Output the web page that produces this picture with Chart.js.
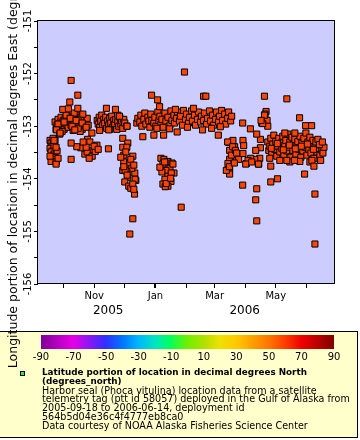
<!DOCTYPE html>
<html>
<head>
<meta charset="utf-8">
<script src="https://cdn.jsdelivr.net/npm/chart.js@4.4.1/dist/chart.umd.min.js"></script>
<style>
  html, body { margin: 0; padding: 0; background: #fff; }
  canvas { display: block; }
</style>
</head>
<body>
<canvas id="sealChart" width="360" height="440"></canvas>
<script>
// day 0 = 2005-09-18, start of the deployment
const START = Date.UTC(2005, 8, 18);

// days since START, one entry per location fix
const days = [
  0, 1, 2, 0, 3, 1, 4, 2, 5, 3, 1, 6, 5, 4, 7, 0, 6, 3, 6, 8,
  5, 7, 8, 9, 10, 11, 12, 13, 14, 15, 16, 17, 18, 19, 20, 21, 22, 23, 24, 25, 26, 27, 28, 29, 30, 31, 32, 33, 34, 35, 36, 37, 38, 12, 16, 24, 30, 6, 20, 28, 8, 14, 22, 26, 32, 36,
  21, 27.7, 19.7, 12.7, 27.7, 32.7, 6.3, 9.7, 24.7, 4, 41.7, 10, 18.3,
  37.3, 39.7, 46.7, 41.3, 34.7, 41.3, 30.7, 26.7, 21, 21, 37, 42, 45, 44, 36, 48, 58.2, 33, 39,
  47, 48, 49, 49.5, 50.5, 51.5, 52.5, 53.5, 54.5, 55.5, 56.5, 57.5, 58.5, 59.5, 60.5, 61.5, 62.5, 63.5, 64.5, 65.5, 66.5, 67.5, 68.5, 69.5, 70.5, 71.5, 72.5, 73.5, 74.5, 76.5, 49.5, 59.5, 67.5,
  56.2, 65.2, 69.2, 76.8, 86.5, 58.5,
  72.5, 77.5, 72.5, 76.5, 82.5, 73.5, 73.5, 79.5, 84.5, 72.5, 81.5, 77.5, 75.5, 80.5, 83.5, 74.5, 78.5, 80.5, 84.2, 85.5, 76.5, 70.5, 82.5, 79.5, 74.8, 84.8, 82.5, 83.5, 73.5, 76.8,
  87.5, 89.5, 90.5, 91.5, 93.5, 94.5, 95.5, 97.5, 98.5, 99.5, 100.5, 101.5, 103.5, 104.5, 105.5, 107.5, 108.5, 109.5, 110.5, 111.5,
  112.5, 114.5, 115.5, 117.5, 119.5, 120.5, 121.5, 123.5, 124, 126, 127, 129, 130, 132, 133, 135, 136, 138, 139, 141,
  142, 144, 145, 147, 148, 150, 151, 153, 154, 156, 157, 159, 160, 162, 163, 165, 166, 168, 169, 171,
  172, 174, 175, 177, 178, 180, 181, 106.5, 137, 161, 125, 143,
  92.5, 103.5, 113.2, 119.2, 126.7, 152, 167.7, 169.7, 101.2, 107.2, 109.2, 134, 153, 155.3, 130.7,
  110.5, 113.5, 117.5, 121.5, 112.5, 119.5, 115.5, 111.5, 123.5, 117.5, 114.5, 120.5, 112.5, 117.5, 122.5, 109.5, 114.2, 120.8, 114.8, 115.8, 120.2,
  178.3, 179, 179, 179, 179, 184, 185.7, 188, 180.7, 182.3, 175.7, 177.3, 177, 182, 184.7, 178.7, 183.7, 186,
  192.3, 193, 192.3, 209.7, 209.7, 209, 208, 204, 200, 195.7, 197.3, 195, 207.7, 201, 205,
  192, 199.7, 206, 220, 226.7, 220, 192, 206, 205, 206,
  215.3, 214.3, 216.3, 217, 211, 212, 213.7, 210.3, 213.7,
  217, 218, 219, 220, 221, 222, 223, 224, 225, 226, 227, 228, 229, 230, 231, 232, 233, 234, 235, 236,
  237, 238, 239, 240, 241, 242, 243, 244, 245, 246, 247, 248, 249, 250, 251, 252, 253, 254, 255, 256,
  257, 258, 259, 260, 261, 262, 263, 264, 265, 266, 267, 268, 269, 270, 271, 272, 273,
  229, 239, 249, 259, 219, 234, 244, 236, 243.7, 261, 269.7,
  220.5, 226.5, 232.5, 238.5, 244.5, 250.5, 256.5, 262.5, 268.5, 271.5,
  236, 248.7, 254.7, 260.7, 253.7, 263, 264, 264
];

// longitude of each fix, degrees East
const longitudes = [
  -153.27, -153.32, -153.38, -153.42, -153.46, -153.49, -153.53, -153.57, -153.59, -153.63, -153.67, -153.68, -153.27, -153.36, -153.47, -153.57, -153.40, -153.23, -153.72, -153.61,
  -152.92, -152.98, -152.87, -153.04, -152.94, -152.83, -153.00, -152.90, -153.06, -152.85, -152.96, -152.89, -153.02, -152.81, -152.92, -152.98, -152.85, -153.08, -152.90, -153.02, -152.79, -152.94, -152.87, -153.00, -152.90, -152.83, -153.06, -152.96, -152.89, -153.00, -152.92, -152.85, -152.98, -153.10, -152.79, -152.75, -153.10, -153.06, -152.85, -153.04, -152.96, -152.92, -153.00, -152.89, -152.94, -153.02,
  -152.13, -152.41, -152.54, -152.68, -152.66, -152.77, -153.07, -153.15, -153.07, -153.27, -153.13, -153.13, -152.67,
  -153.25, -153.30, -153.36, -153.46, -153.53, -153.56, -153.41, -153.39, -153.32, -153.63, -153.49, -153.57, -153.48, -153.38, -153.40, -153.44, -153.43, -153.30, -153.61,
  -152.89, -152.96, -152.83, -153.02, -152.90, -152.79, -152.98, -152.87, -152.94, -152.83, -153.04, -152.90, -152.98, -152.85, -152.94, -152.81, -153.02, -152.89, -152.96, -152.87, -153.06, -152.92, -153.00, -152.83, -152.96, -152.90, -153.04, -152.87, -152.94, -153.00, -153.08, -153.06, -152.79,
  -152.66, -152.68, -152.81, -153.00, -152.94, -153.07,
  -153.23, -153.32, -153.40, -153.40, -153.57, -153.55, -153.68, -153.70, -153.89, -153.84, -153.80, -153.97, -153.49, -153.63, -153.74, -154.06, -154.14, -154.18, -154.29, -154.03, -153.86, -153.59, -154.76, -155.05, -153.84, -154.01, -154.10, -154.20, -153.77, -153.93,
  -152.85, -152.92, -152.79, -153.00, -152.87, -152.75, -152.96, -152.83, -152.90, -153.02, -152.77, -152.89, -152.94, -152.83, -153.00, -152.73, -152.89, -152.81, -152.96, -152.87,
  -153.02, -152.75, -152.90, -152.83, -152.98, -152.71, -152.89, -152.79, -152.94, -152.85, -152.73, -152.90, -152.81, -152.98, -152.70, -152.87, -152.77, -152.94, -152.83, -152.71,
  -152.90, -152.79, -152.98, -152.87, -152.73, -152.92, -152.81, -152.89, -152.75, -152.96, -152.85, -152.71, -152.90, -152.79, -152.98, -152.87, -152.73, -152.92, -152.81, -152.70,
  -152.89, -152.77, -152.96, -152.85, -152.73, -152.90, -152.81, -153.04, -153.02, -153.04, -152.68, -152.66,
  -153.20, -153.17, -153.17, -153.05, -153.11, -153.07, -153.17, -153.01, -152.41, -152.50, -152.63, -151.97, -152.43, -152.43, -154.54,
  -153.61, -153.63, -153.67, -153.70, -153.72, -153.80, -153.84, -153.87, -153.89, -153.95, -154.01, -154.05, -154.10, -154.14, -153.72, -153.78, -153.68, -153.89, -154.15, -154.09, -153.99,
  -153.31, -153.46, -153.63, -153.80, -153.91, -153.39, -153.61, -153.63, -153.55, -153.27, -153.84, -153.71, -153.30, -153.39, -153.46, -153.77, -153.70, -153.51,
  -153.27, -153.37, -153.52, -153.25, -153.41, -153.61, -153.72, -153.63, -153.61, -153.71, -153.65, -153.72, -153.72, -153.68, -153.46,
  -152.94, -153.05, -153.15, -153.76, -154.00, -154.06, -154.12, -154.19, -154.40, -154.80,
  -152.72, -152.77, -152.89, -153.00, -152.94, -152.95, -152.79, -152.89, -152.43,
  -153.30, -153.46, -153.38, -153.23, -153.51, -153.34, -153.17, -153.44, -153.29, -153.57, -153.38, -153.23, -153.49, -153.32, -153.42, -153.19, -153.55, -153.36, -153.27, -153.47,
  -153.15, -153.40, -153.30, -153.59, -153.21, -153.46, -153.34, -153.25, -153.53, -153.38, -153.29, -153.44, -153.19, -153.59, -153.32, -153.47, -153.23, -153.40, -153.13, -153.55,
  -153.30, -153.44, -153.21, -153.51, -153.36, -153.27, -153.61, -153.40, -153.30, -153.49, -153.25, -153.42, -153.55, -153.36, -153.46, -153.51, -153.40,
  -153.65, -153.68, -153.67, -153.68, -153.61, -153.13, -153.13, -153.65, -153.65, -153.65, -153.65,
  -153.42, -153.33, -153.45, -153.36, -153.43, -153.38, -153.34, -153.44, -153.35, -153.30,
  -152.48, -152.84, -152.99, -152.99, -153.91, -153.76, -154.29, -155.24
];

// x axis: month ticks, only some carry a label
const monthStarts = ['2005-10-01', '2005-11-01', '2005-12-01', '2006-01-01', '2006-02-01', '2006-03-01', '2006-04-01', '2006-05-01', '2006-06-01'];
const monthLabels = ['', 'Nov', '', 'Jan', '', 'Mar', '', 'May', ''];
const yearLabels = ['2005', '2006'];
const yearLabelDates = ['2005-11-15', '2006-03-31'];
const xRange = ['2005-09-06', '2006-06-29'];

// y axis
const lonMin = -156;
const lonMax = -151;

// colour bar (latitude, degrees North)
const colorbarTicks = [-90, -70, -50, -30, -10, 10, 30, 50, 70, 90];

const legendTitle = ['Latitude portion of location in decimal degrees North', '(degrees_north)'];
const legendInfo = [
  'Harbor seal (Phoca vitulina) location data from a satellite',
  'telemetry tag (ptt id 58057) deployed in the Gulf of Alaska from',
  '2005-09-18 to 2006-06-14, deployment id',
  '564b5d04e36c4f4777eb8ca0',
  'Data courtesy of NOAA Alaska Fisheries Science Center'
];

function dayOf(s) {
  const p = s.split('-').map(Number);
  return (Date.UTC(p[0], p[1] - 1, p[2]) - START) / 86400000;
}

const monthDays = monthStarts.map(dayOf);
const points = days.map((d, i) => ({ x: d, y: longitudes[i] }));

const FONT = 'DejaVu Sans';

const paperPlugin = {
  id: 'paper',
  beforeDraw(chart) {
    const { ctx, chartArea: a } = chart;
    ctx.save();
    // legend panel
    ctx.fillStyle = '#ffffcc';
    ctx.fillRect(0, 331, 358, 106);
    ctx.strokeStyle = '#000';
    ctx.lineWidth = 1;
    ctx.strokeRect(-0.5, 331.5, 358, 106);
    // plot background
    ctx.fillStyle = '#ccccff';
    ctx.fillRect(a.left, a.top, a.right - a.left, a.bottom - a.top);
    ctx.restore();
  },
  afterDraw(chart) {
    const { ctx, chartArea: a } = chart;
    const xs = chart.scales.x;
    ctx.save();
    ctx.strokeStyle = '#000';
    ctx.lineWidth = 1;
    ctx.strokeRect(a.left - 0.5, a.top - 0.5, a.right - a.left, a.bottom - a.top);

    // years under the month labels
    ctx.fillStyle = '#000';
    ctx.font = '12px "' + FONT + '"';
    ctx.textAlign = 'center';
    ctx.textBaseline = 'middle';
    yearLabels.forEach((t, i) => {
      ctx.fillText(t, xs.getPixelForValue(dayOf(yearLabelDates[i])), 311);
    });

    // colour bar
    const cbL = 41, cbR = 334, cbT = 335, cbB = 349;
    const g = ctx.createLinearGradient(cbL, 0, cbR, 0);
    [[0, '#80009a'], [0.11, '#e600e6'], [0.22, '#3030ff'], [0.28, '#0078ff'], [0.33, '#00b4ff'],
     [0.39, '#00e6c0'], [0.44, '#00ff60'], [0.5, '#70f000'], [0.56, '#b4e000'], [0.61, '#f0e000'],
     [0.67, '#ffc800'], [0.72, '#ffa000'], [0.78, '#ff7400'], [0.83, '#ff4000'], [0.89, '#f00000'],
     [0.94, '#c00000'], [1, '#800000']].forEach(s => g.addColorStop(s[0], s[1]));
    ctx.fillStyle = g;
    ctx.fillRect(cbL, cbT, cbR - cbL, cbB - cbT);
    ctx.fillStyle = '#000';
    ctx.font = '10px "' + FONT + '"';
    colorbarTicks.forEach(v => {
      const x = cbL + (v + 90) / 180 * (cbR - cbL);
      ctx.fillText(String(v), x, 357);
    });

    // legend entry
    ctx.fillStyle = '#33ee33';
    ctx.fillRect(20, 371, 4, 4);
    ctx.strokeRect(20.5, 371.5, 4, 4);
    ctx.fillStyle = '#000';
    ctx.textAlign = 'left';
    ctx.font = 'bold 8.8px "' + FONT + '"';
    legendTitle.forEach((t, i) => ctx.fillText(t, 42, 373 + i * 9));
    ctx.font = '9.6px "' + FONT + '"';
    legendInfo.forEach((t, i) => ctx.fillText(t, 42, 391 + i * 8.95));
    ctx.restore();
  }
};

const zeroPad = (scale) => {
  scale.paddingTop = 0;
  scale.paddingBottom = 0;
  scale.paddingLeft = 0;
  scale.paddingRight = 0;
};

new Chart(document.getElementById('sealChart').getContext('2d'), {
  type: 'scatter',
  data: {
    datasets: [{
      data: points,
      pointStyle: 'rect',
      pointRadius: 4.3,
      backgroundColor: '#ff4400',
      borderColor: '#000',
      borderWidth: 1
    }]
  },
  options: {
    responsive: false,
    animation: false,
    events: [],
    layout: { padding: { left: 0, top: 21, right: 25, bottom: 116 } },
    plugins: { legend: { display: false }, tooltip: { enabled: false } },
    scales: {
      x: {
        type: 'linear',
        min: dayOf(xRange[0]),
        max: dayOf(xRange[1]),
        afterBuildTicks: (scale) => { scale.ticks = monthDays.map(v => ({ value: v })); },
        afterFit: (scale) => { scale.height = 40; zeroPad(scale); },
        ticks: {
          autoSkip: false,
          minRotation: 0,
          maxRotation: 0,
          padding: 2,
          color: '#000',
          font: { family: FONT, size: 10 },
          callback: (v, i) => monthLabels[i]
        },
        grid: {
          drawOnChartArea: false,
          tickLength: 4,
          color: '#000',
          lineWidth: (c) => (monthLabels[c.index] === 'Jan' ? 2 : 1)
        },
        border: { display: false }
      },
      y: {
        min: lonMin,
        max: lonMax,
        afterFit: (scale) => { scale.width = 38; zeroPad(scale); },
        ticks: {
          stepSize: 0.5,
          autoSkip: false,
          minRotation: 90,
          maxRotation: 90,
          crossAlign: 'center',
          padding: -5.5,
          color: '#000',
          font: { family: FONT, size: 10 },
          callback: (v) => (Number.isInteger(v) ? String(v) : '')
        },
        grid: { drawOnChartArea: false, tickLength: 4, color: '#000' },
        border: { display: false },
        title: {
          display: true,
          text: 'Longitude portion of location in decimal degrees East (degrees_east)',
          color: '#000',
          font: { family: FONT, size: 12.5 },
          padding: { top: 6, bottom: 0 }
        }
      }
    }
  },
  plugins: [paperPlugin]
});
</script>
</body>
</html>
